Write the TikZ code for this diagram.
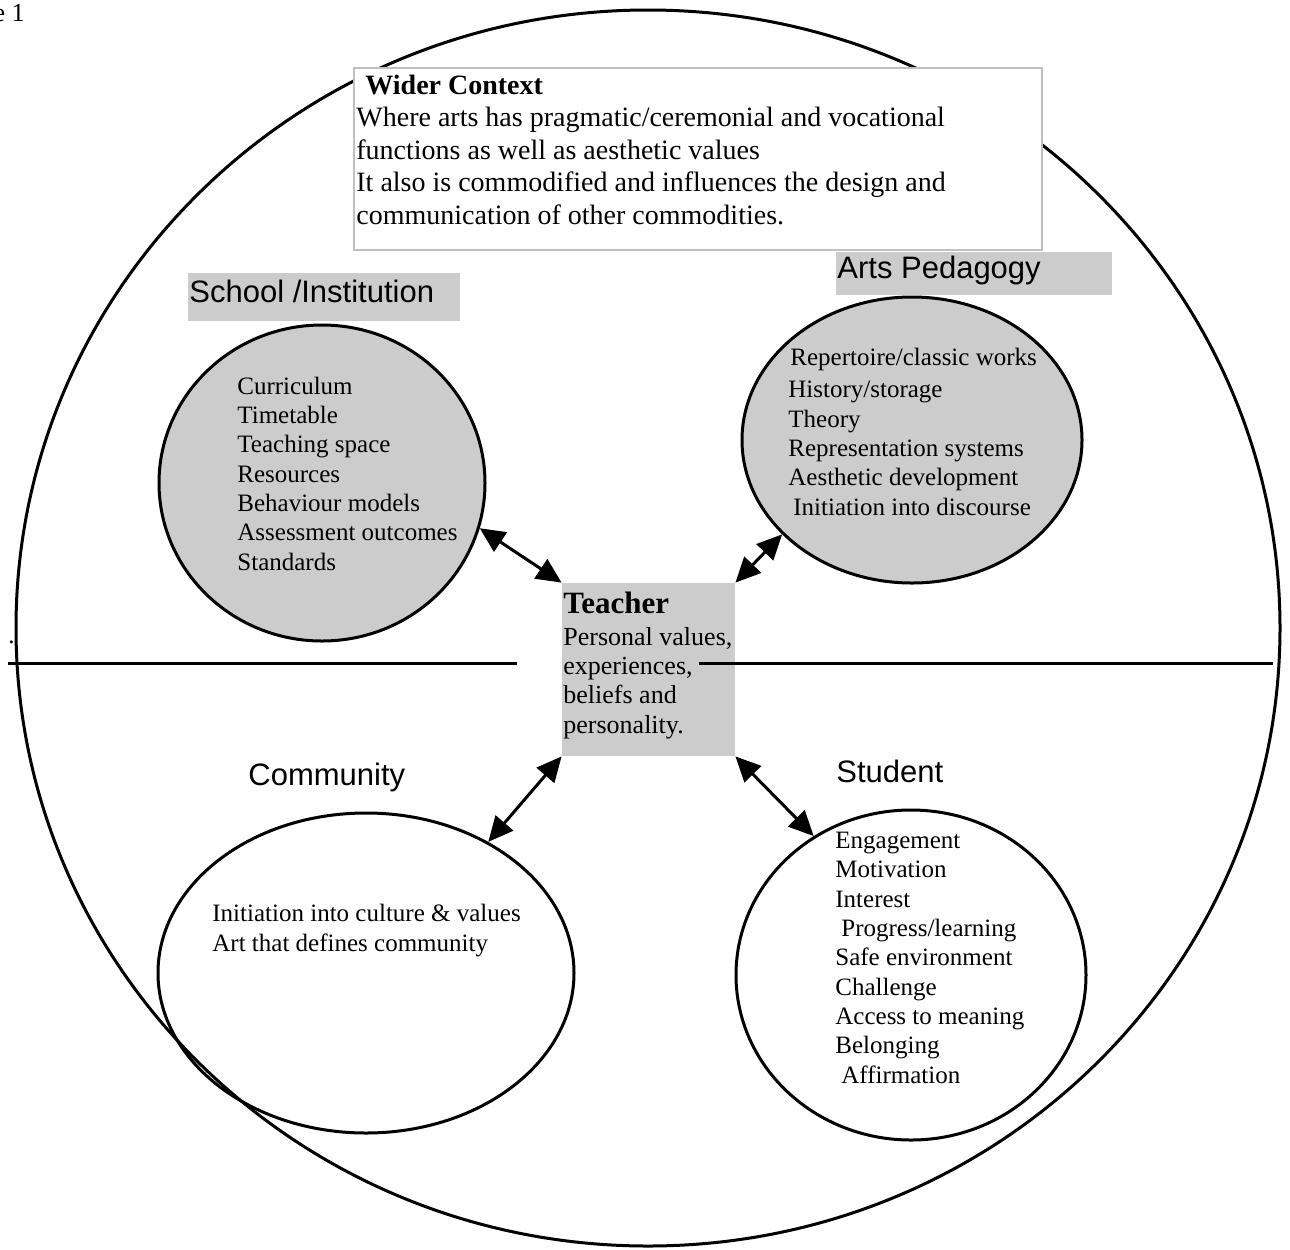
\documentclass[tikz,border=0pt]{standalone}
\usepackage{fontspec}
\setmainfont{Liberation Serif}
\newfontfamily\arialfont{Liberation Sans}
\usetikzlibrary{shapes.geometric,arrows.meta}
\definecolor{boxgray}{RGB}{204,204,204}
\definecolor{framegray}{RGB}{192,192,192}
\begin{document}
\begin{tikzpicture}[x=0.5pt,y=-0.5pt,
  oval/.style={ellipse, draw=black, line width=1.5pt, inner sep=0pt},
  grayoval/.style={oval, fill=boxgray},
  graybox/.style={rectangle, fill=boxgray, draw=none, inner sep=0pt},
  listtext/.style={font=\fontsize{12.5pt}{14.65pt}\selectfont, inner sep=0pt, anchor=base west, align=left},
  teachtext/.style={font=\fontsize{13pt}{14.65pt}\selectfont, inner sep=0pt, anchor=base west, align=left},
  widetext/.style={font=\fontsize{14pt}{16.25pt}\selectfont, inner sep=0pt, anchor=base west, align=left},
  labeltext/.style={font=\arialfont\fontsize{15.5pt}{18pt}\selectfont, inner sep=0pt, anchor=base west},
  divider/.style={line width=1.5pt},
  conn/.style={{Triangle[length=12.5pt,width=11.5pt]}-{Triangle[length=12.5pt,width=11.5pt]}, line width=1.5pt}
]
\useasboundingbox (0,0) rectangle (1290,1249);

% outer world
\node[oval, minimum width=632pt, minimum height=618pt] (world) at (648,628) {};

% wider context box
\node[rectangle, draw=framegray, fill=white, line width=1pt, inner sep=0pt,
      minimum width=344pt, minimum height=91pt] (wider) at (698,159) {};
% (multi-line nodes: base anchor = baseline of the last line)
\node[widetext] (widertext) at (356,224)
  {\hspace{4.5pt}\textbf{Wider Context}\\
   Where arts has pragmatic/ceremonial and vocational\\
   functions as well as aesthetic values\\
   It also is commodified and influences the design and\\
   communication of other commodities.};

% label boxes
\node[graybox, anchor=north west, minimum width=136pt, minimum height=24pt] (schoolbox) at (188,273) {};
\node[labeltext] (schoollabel) at (189,302) {School /Institution};
\node[graybox, anchor=north west, minimum width=138pt, minimum height=21.5pt] (pedbox) at (836,252) {};
\node[labeltext] (pedlabel) at (837,278) {Arts Pedagogy};
\node[labeltext] (comlabel) at (248,785) {Community};
\node[labeltext] (stulabel) at (836,782) {Student};

% ellipses
\node[grayoval, minimum width=163pt, minimum height=158pt] (school) at (322,483) {};
\node[grayoval, minimum width=170pt, minimum height=143pt] (ped) at (912,440) {};
\node[oval, minimum width=208pt, minimum height=160pt] (com) at (366,973) {};
\node[oval, minimum width=175pt, minimum height=165pt] (stu) at (911,975) {};

% teacher box
\node[graybox, minimum width=86.5pt, minimum height=86.5pt] (teacher) at (648.5,669.5) {};

% dividing line
\coordinate (hlA) at (8,663);
\coordinate (hlB) at (517,663);
\coordinate (hlC) at (699,663);
\coordinate (hlD) at (1273,663);
\draw[divider] (hlA) -- (hlB);
\draw[divider] (hlC) -- (hlD);

% connectors
\draw[conn] (school.-16) -- (teacher.north west);
\draw[conn] (ped.216) -- (teacher.north east);
\draw[conn] (com.47) -- (teacher.south west);
\draw[conn] (stu.125) -- (teacher.south east);

% texts
\node[listtext] (schoollist) at (237,570)
  {Curriculum\\ Timetable\\ Teaching space\\ Resources\\ Behaviour models\\ Assessment outcomes\\ Standards};
\node[listtext] (pedfirst) at (790,365) {Repertoire/classic works};
\node[listtext] (pedlist) at (788,515)
  {History/storage\\ Theory\\ Representation systems\\ Aesthetic development\\ \hspace{2.5pt}Initiation into discourse};
\node[listtext] (comlist) at (212,951)
  {Initiation into culture \& values\\ Art that defines community};
\node[listtext] (stulist) at (835,1083)
  {Engagement\\ Motivation\\ Interest\\ \hspace{3pt}Progress/learning\\ Safe environment\\ Challenge\\ Access to meaning\\ Belonging\\ \hspace{3pt}Affirmation};
\node[anchor=base west, inner sep=0pt, font=\fontsize{15.5pt}{18pt}\selectfont\bfseries] (teachhead) at (563,613) {Teacher};
\node[teachtext] (teachlist) at (563,733)
  {Personal values,\\ experiences,\\ beliefs and\\ personality.};

\node[anchor=base west, inner sep=0pt, font=\fontsize{12.5pt}{14pt}\selectfont] (dot) at (8,643) {.};
\node[anchor=base east, inner sep=0pt, font=\fontsize{13pt}{15pt}\selectfont] (fig) at (25,21) {e 1};
\end{tikzpicture}
\end{document}
